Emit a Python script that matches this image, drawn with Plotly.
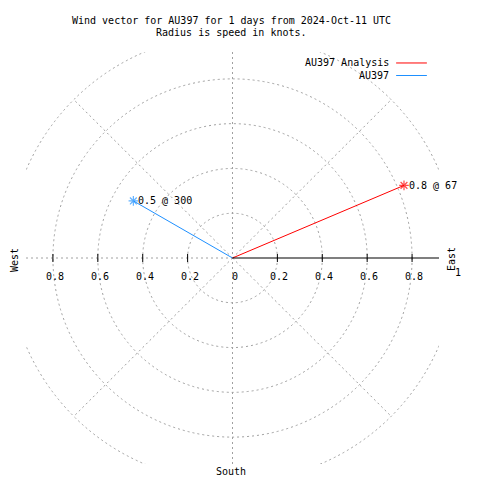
import numpy as np
import plotly.graph_objects as go

# ---- data ----
series_names = ["AU397 Analysis", "AU397"]
speeds = [0.83, 0.51]          # knots
directions = [67, 300]         # degrees (compass)
series_colors = ["#ff0000", "#1e90ff"]
ring_radii = [0.2, 0.4, 0.6, 0.8, 1.0]
spoke_angles = [45, 135, 225, 315]
tick_values = [0.2, 0.4, 0.6, 0.8]
tick_labels = ["0.2", "0.4", "0.6", "0.8"]
title_lines = ["Wind vector for AU397 for 1 days from 2024-Oct-11 UTC",
               "Radius is speed in knots."]

FONT = dict(family="DejaVu Sans Mono, Liberation Mono, monospace", size=10, color="black")
GRID = dict(color="#a0a0a0", width=1, dash="2px,3px")
LIM = 0.92

# page offset (body margin) and layout geometry
OFF = 8
L, T = 26 - OFF, 52 - OFF
PW, PH = 413, 412
W, H = 472, 472


def paper(px, py):
    """page pixel -> paper coords"""
    return (px - OFF - L) / PW, 1 - (py - OFF - T) / PH


fig = go.Figure()
shapes = []
annotations = []

# grid rings
for r in ring_radii:
    shapes.append(dict(type="circle", xref="x", yref="y", x0=-r, y0=-r, x1=r, y1=r,
                       line=GRID, layer="below"))
# spokes
for a in spoke_angles:
    t = np.deg2rad(a)
    shapes.append(dict(type="line", xref="x", yref="y", x0=0, y0=0,
                       x1=float(np.sin(t)), y1=float(np.cos(t)), line=GRID, layer="below"))
# vertical axis (dashed) and west half (dashed)
shapes.append(dict(type="line", xref="x", yref="y", x0=0, y0=-LIM, x1=0, y1=LIM, line=GRID, layer="below"))
shapes.append(dict(type="line", xref="x", yref="y", x0=-LIM, y0=0, x1=0, y1=0, line=GRID, layer="below"))
# east half solid black
shapes.append(dict(type="line", xref="x", yref="y", x0=0, y0=0, x1=LIM, y1=0,
                   line=dict(color="black", width=1.2)))
# ticks both sides
for v in tick_values:
    for sgn in (-1, 1):
        shapes.append(dict(type="line", xref="x", yref="y", x0=sgn * v, y0=-0.018,
                           x1=sgn * v, y1=0.018, line=dict(color="black", width=1)))
# tick labels
for v, lab in zip(tick_values, tick_labels):
    for sgn in (-1, 1):
        annotations.append(dict(x=sgn * v, y=-0.081, xref="x", yref="y", text=lab,
                                showarrow=False, font=FONT, xshift=2, xanchor="center", yanchor="middle"))
annotations.append(dict(x=0, y=-0.081, xref="x", yref="y", text="0", showarrow=False,
                        font=FONT, xshift=2, xanchor="center", yanchor="middle"))

# vectors
for name, s, d, c in zip(series_names, speeds, directions, series_colors):
    t = np.deg2rad(d)
    xe, ye = s * np.sin(t), s * np.cos(t)
    fig.add_trace(go.Scatter(x=[0, xe], y=[0, ye], mode="lines+markers", name=name,
                             line=dict(color=c, width=1),
                             marker=dict(symbol="asterisk-open", size=[0, 8],
                                         line=dict(color=c, width=1.2), color=c),
                             showlegend=False, cliponaxis=False))
    annotations.append(dict(x=xe, y=ye, xref="x", yref="y", text=f"{s:.1f} @ {d}",
                            showarrow=False, font=FONT, xanchor="left", yanchor="middle",
                            xshift=3))

# manual legend (gnuplot style: text then line sample)
legend_y = [0.871, 0.815]
for name, c, ly in zip(series_names, series_colors, legend_y):
    annotations.append(dict(x=0.706, y=ly, xref="x", yref="y", text=name, showarrow=False,
                            font=FONT, xanchor="right", yanchor="middle"))
    shapes.append(dict(type="line", xref="x", yref="y", x0=0.729, y0=ly, x1=0.866, y1=ly,
                       line=dict(color=c, width=1)))

# titles
for txt, py in zip(title_lines, [20, 33]):
    px_, py_ = paper(231.5, py)
    annotations.append(dict(x=px_, y=py_, xref="paper", yref="paper", text=txt, showarrow=False,
                            font=FONT, xanchor="center", yanchor="middle"))
# compass labels
for txt, px, py, ang in [("West", 14, 260, -90), ("East", 451, 259, -90),
                         ("1", 458, 272, 0), ("South", 231, 471, 0)]:
    xp, yp = paper(px, py)
    annotations.append(dict(x=xp, y=yp, xref="paper", yref="paper", text=txt, textangle=ang,
                            showarrow=False, font=FONT, xanchor="center", yanchor="middle"))

fig.update_layout(
    width=W, height=H, autosize=False,
    margin=dict(l=L, r=W - L - PW, t=T, b=H - T - PH, pad=0),
    paper_bgcolor="white", plot_bgcolor="white",
    xaxis=dict(range=[-LIM, LIM], visible=False, fixedrange=True),
    yaxis=dict(range=[-LIM, LIM], visible=False, fixedrange=True),
    shapes=shapes, annotations=annotations, showlegend=False,
)
fig.write_html("out.html")
